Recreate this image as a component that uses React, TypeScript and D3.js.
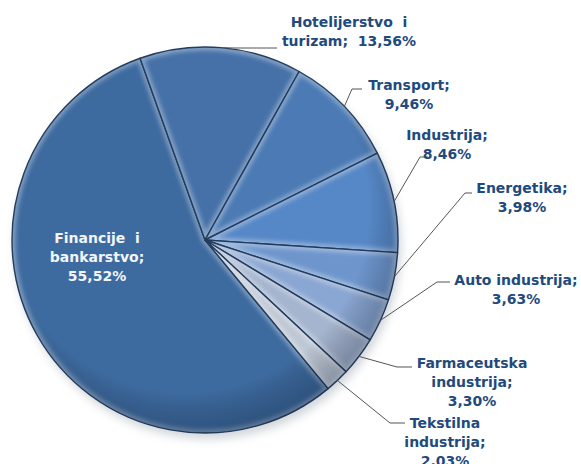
import React from "react";
import * as d3 from "d3";

const categories = [
  "Financije i bankarstvo",
  "Hotelijerstvo i turizam",
  "Transport",
  "Industrija",
  "Energetika",
  "Auto industrija",
  "Farmaceutska industrija",
  "Tekstilna industrija",
];
const values = [55.52, 13.56, 9.46, 8.46, 3.98, 3.63, 3.3, 2.03];
const labelLines = [
  ["Financije  i", "bankarstvo;", "55,52%"],
  ["Hotelijerstvo  i", "turizam;  13,56%"],
  ["Transport;", "9,46%"],
  ["Industrija;", "8,46%"],
  ["Energetika;", "3,98%"],
  ["Auto industrija;", "3,63%"],
  ["Farmaceutska", "industrija;", "3,30%"],
  ["Tekstilna", "industrija;", "2,03%"],
];
const colors = ["#3d6a9f", "#4571a8", "#4b7ab4", "#5687c6", "#6e96cd", "#8aa6d2", "#a5b5cf", "#bec7d4"];

// label layout: [centerX, firstLineCenterY]
const labelPos: [number, number][] = [
  [97, 238], [349, 22], [409, 85], [447, 135], [522, 188], [516, 280], [472, 363], [445, 423],
];
// leader lines: [elbow x, elbow y, end x]
const leaders: ([number, number, number] | null)[] = [
  null, [235, 48, 277], [352, 89, 362], [420, 157, 428], [465, 193, 472], [437, 282, 450], [397, 367, 412], [390, 423, 405],
];

export default function App() {
  const W = 581, H = 464;
  const cx = 205, cy = 240, r = 193;
  const toRad = Math.PI / 180;
  const start = 140.35 * toRad;
  const pie = d3.pie<number>().sort(null).value((d) => d).startAngle(start).endAngle(start + 2 * Math.PI);
  const arcs = pie(values);
  const arc = d3.arc<d3.PieArcDatum<number>>().innerRadius(0).outerRadius(r);
  const lineH = 19;
  const font = "'DejaVu Sans', Verdana, sans-serif";
  return (
    <svg width={W} height={H} style={{ position: "absolute", left: 0, top: 0, background: "#fff" }}>
      <defs>
        <filter id="shadow" x="-20%" y="-20%" width="140%" height="140%">
          <feGaussianBlur stdDeviation="5" />
        </filter>
        <filter id="soft" x="-10%" y="-10%" width="120%" height="120%">
          <feGaussianBlur stdDeviation="2" />
        </filter>
        {arcs.map((a, i) => (
          <clipPath id={`clip${i}`} key={i}>
            <path d={arc(a) || ""} transform={`translate(${cx},${cy})`} />
          </clipPath>
        ))}
        <radialGradient id="shade" cx="0.45" cy="0.42" r="0.58">
          <stop offset="0.82" stopColor="#000" stopOpacity="0" />
          <stop offset="1" stopColor="#0a1a30" stopOpacity="0.28" />
        </radialGradient>
      </defs>
      <circle cx={cx + 3} cy={cy + 6} r={r} fill="#9aa3ad" opacity={0.45} filter="url(#shadow)" />
      {arcs.map((a, i) => (
        <g key={i}>
          <path d={arc(a) || ""} transform={`translate(${cx},${cy})`} fill={colors[i]} />
          <g clipPath={`url(#clip${i})`}>
            <path
              d={arc(a) || ""}
              transform={`translate(${cx},${cy})`}
              fill="none"
              stroke="#ffffff"
              strokeOpacity={0.35}
              strokeWidth={7}
              filter="url(#soft)"
            />
          </g>
          <path
            d={arc(a) || ""}
            transform={`translate(${cx},${cy})`}
            fill="none"
            stroke="#243c5c"
            strokeWidth={1.4}
            strokeLinejoin="round"
          />
        </g>
      ))}
      <circle cx={cx} cy={cy} r={r} fill="url(#shade)" />
      {arcs.map((a, i) => {
        const L = leaders[i];
        if (!L) return null;
        const mid = (a.startAngle + a.endAngle) / 2;
        const px = cx + Math.sin(mid) * r;
        const py = cy - Math.cos(mid) * r;
        return (
          <polyline
            key={`l${i}`}
            points={`${px},${py} ${L[0]},${L[1]} ${L[2]},${L[1]}`}
            fill="none"
            stroke="#555"
            strokeWidth={1}
          />
        );
      })}
      {labelLines.map((lines, i) => (
        <text
          key={`t${i}`}
          x={labelPos[i][0]}
          y={labelPos[i][1]}
          textAnchor="middle"
          fontFamily={font}
          fontWeight="bold"
          fontSize={14}
          fill={i === 0 ? "#f2f5fa" : "#1f4a7d"}
          style={{ whiteSpace: "pre" }}
        >
          {lines.map((ln, j) => (
            <tspan key={j} x={labelPos[i][0]} dy={j === 0 ? "0.35em" : lineH} xmlSpace="preserve">
              {ln}
            </tspan>
          ))}
        </text>
      ))}
    </svg>
  );
}
